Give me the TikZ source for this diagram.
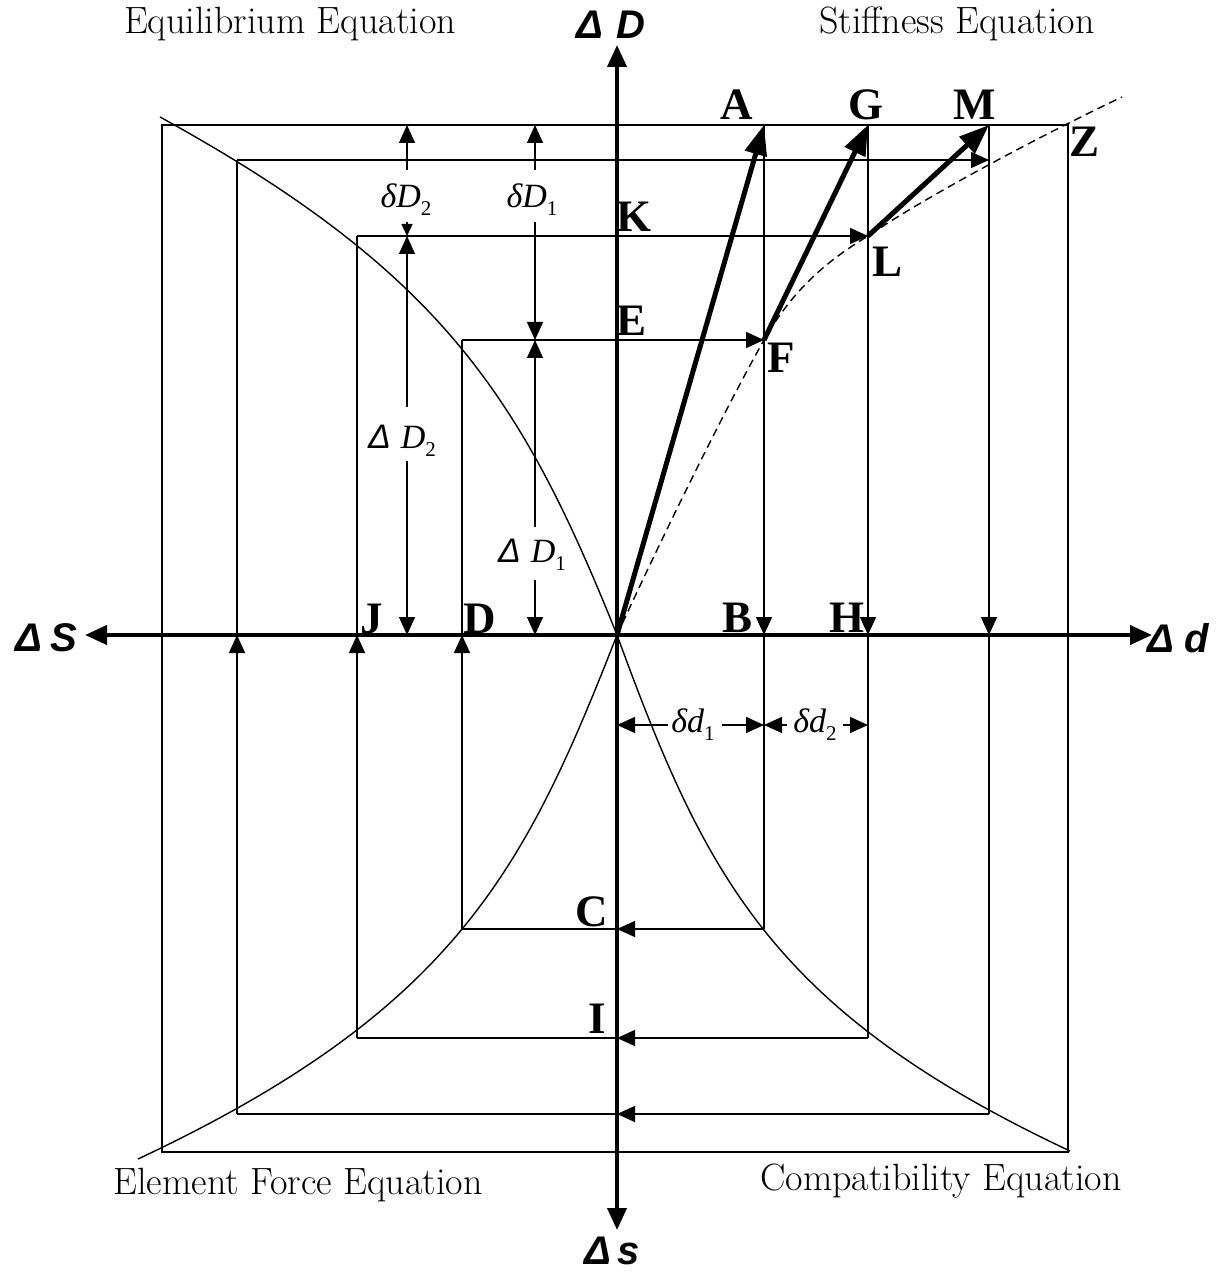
\documentclass[tikz,border=0pt]{standalone}
\usepackage{fontspec}
\usetikzlibrary{arrows.meta}
\newfontfamily\tnr{Liberation Serif}
\newfontfamily\arl{Liberation Sans}
\newcommand\subx[1]{\raisebox{-4pt}{\tnr\upshape\mdseries\fontsize{10.5}{11}\selectfont #1}}
\begin{document}
\begin{tikzpicture}[x=0.5pt,y=-0.5pt,
  thinl/.style={line width=0.7pt},
  arr/.style={line width=0.7pt,-{Triangle[length=9pt,width=8pt]}},
  arrsm/.style={line width=0.7pt,-{Triangle[length=6pt,width=5.5pt]}},
  thickarr/.style={line width=2.5pt,-{Triangle[length=15pt,width=11pt]}},
  axisl/.style={line width=2pt,{Triangle[length=11pt,width=9.5pt]}-{Triangle[length=11pt,width=9.5pt]}},
  curvel/.style={line width=0.7pt},
  ptl/.style={font=\tnr\bfseries\fontsize{22.5}{24}\selectfont,inner sep=0pt},
  eql/.style={font=\fontsize{19}{21}\selectfont,inner sep=0pt,anchor=base},
  axl/.style={font=\arl\bfseries\itshape\fontsize{20}{22}\selectfont,inner sep=0pt},
  dml/.style={font=\tnr\itshape\fontsize{17}{18}\selectfont,inner sep=0pt},
]
\path[use as bounding box] (0,0) rectangle (1230,1272);

% key points
\coordinate (O) at (617,635);
\coordinate (A) at (764,125);
\coordinate (G) at (868,125);
\coordinate (M) at (989,125);
\coordinate (Z) at (1068,125);
\coordinate (F) at (764,340);
\coordinate (L) at (868,236);
\coordinate (K) at (617,236);
\coordinate (E) at (617,340);
\coordinate (B) at (764,635);
\coordinate (H) at (868,635);
\coordinate (J) at (357,635);
\coordinate (D) at (462,635);
\coordinate (C) at (617,929);
\coordinate (I) at (617,1038);

% outer rectangle
\draw[thinl] (162,125) -- (Z) -- (1068,1152) -- (162,1152) -- cycle;

% left verticals (arrows up to the axis)
\draw[arr] (237,1114) -- (237,635);
\draw[thinl] (237,635) -- (237,160);
\draw[arr] (357,1038) -- (J);
\draw[thinl] (J) -- (357,236);
\draw[arr] (462,929) -- (D);
\draw[thinl] (D) -- (462,340);

% right verticals (arrows down to the axis)
\draw[arr] (A) -- (B);
\draw[thinl] (B) -- (764,929);
\draw[arr] (G) -- (H);
\draw[thinl] (H) -- (868,1038);
\draw[arr] (M) -- (989,635);
\draw[thinl] (989,635) -- (989,1114);

% upper horizontals (arrows right)
\draw[arr] (237,160) -- (989,160);
\draw[arr] (357,236) -- (L);
\draw[arr] (462,340) -- (F);

% lower horizontals (arrows left to the axis)
\draw[arr] (764,929) -- (C);
\draw[thinl] (C) -- (462,929);
\draw[arr] (868,1038) -- (I);
\draw[thinl] (I) -- (357,1038);
\draw[arr] (989,1114) -- (617,1114);
\draw[thinl] (617,1114) -- (237,1114);

% curves
\draw[curvel] (160,117) .. controls (440,271) and (521,395) .. (O);
\draw[curvel] (O) .. controls (705,875) and (770,1010) .. (1070,1151);
\draw[curvel] (O) .. controls (525,870) and (455,1010) .. (138,1159);
\draw[curvel,dash pattern=on 4pt off 2.5pt] (O) .. controls (670,520) and (730,400) .. (F)
   .. controls (790,295) and (820,265) .. (L)
   .. controls (925,197) and (1040,136) .. (1122,97);

% dimension arrows
\draw[arr] (407,170) -- (407,125);
\draw[arrsm] (407,222) -- (407,236);
\draw[arr] (407,407) -- (407,236);
\draw[arr] (407,461) -- (407,635);
\draw[arr] (535,170) -- (535,125);
\draw[arr] (535,222) -- (535,340);
\draw[arr] (535,527) -- (535,340);
\draw[arr] (535,580) -- (535,635);
\draw[arr] (668,725) -- (617,725);
\draw[arr] (722,725) -- (764,725);
\draw[arr] (787,725) -- (764,725);
\draw[arr] (843,725) -- (868,725);

% thick arrows
\draw[thickarr] (O) -- (A);
\draw[thickarr] (F) -- (G);
\draw[thickarr] (L) -- (M);

% axes
\draw[axisl] (85,635) -- (1152,635);
\draw[axisl] (617,1230) -- (617,45);

% point labels
\node[ptl] (lA) at (737,105) {A};
\node[ptl] (lG) at (866,105) {G};
\node[ptl] (lM) at (975,105) {M};
\node[ptl] (lZ) at (1084,142) {Z};
\node[ptl] (lK) at (634,217) {K};
\node[ptl] (lE) at (631,321) {E};
\node[ptl] (lF) at (781,358) {F};
\node[ptl] (lL) at (887,262) {L};
\node[ptl] (lB) at (737,618) {B};
\node[ptl] (lH) at (847,618) {H};
\node[ptl] (lJ) at (372,619) {J};
\node[ptl] (lD) at (480,619) {D};
\node[ptl] (lC) at (592,912) {C};
\node[ptl] (lI) at (597,1019) {I};

% dimension labels
\node[dml] (dD2) at (406,200) {δD\subx{2}};
\node[dml] (dD1) at (532,200) {δD\subx{1}};
\node[dml] (DD2) at (402,441) {{\arl Δ}\hspace{5pt}D\subx{2}};
\node[dml] (DD1) at (532,555) {{\arl Δ}\hspace{5pt}D\subx{1}};
\node[dml] (dd1) at (693,725) {δd\subx{1}};
\node[dml] (dd2) at (815,725) {δd\subx{2}};

% axis labels
\node[axl] (aD) at (611,25) {Δ\hspace{7pt}D};
\node[axl] (aS) at (46,638) {Δ\hspace{4pt}S};
\node[axl] (ad) at (1178,638) {Δ\hspace{5pt}d};
\node[axl] (as) at (612,1251) {Δ\hspace{3pt}s};

% equation labels
\node[eql] (eq1) at (290,34) {Equilibrium Equation};
\node[eql] (eq2) at (957,34) {Stiffness Equation};
\node[eql] (eq3) at (298,1194) {Element Force Equation};
\node[eql] (eq4) at (941,1190) {Compatibility Equation};
\end{tikzpicture}
\end{document}
